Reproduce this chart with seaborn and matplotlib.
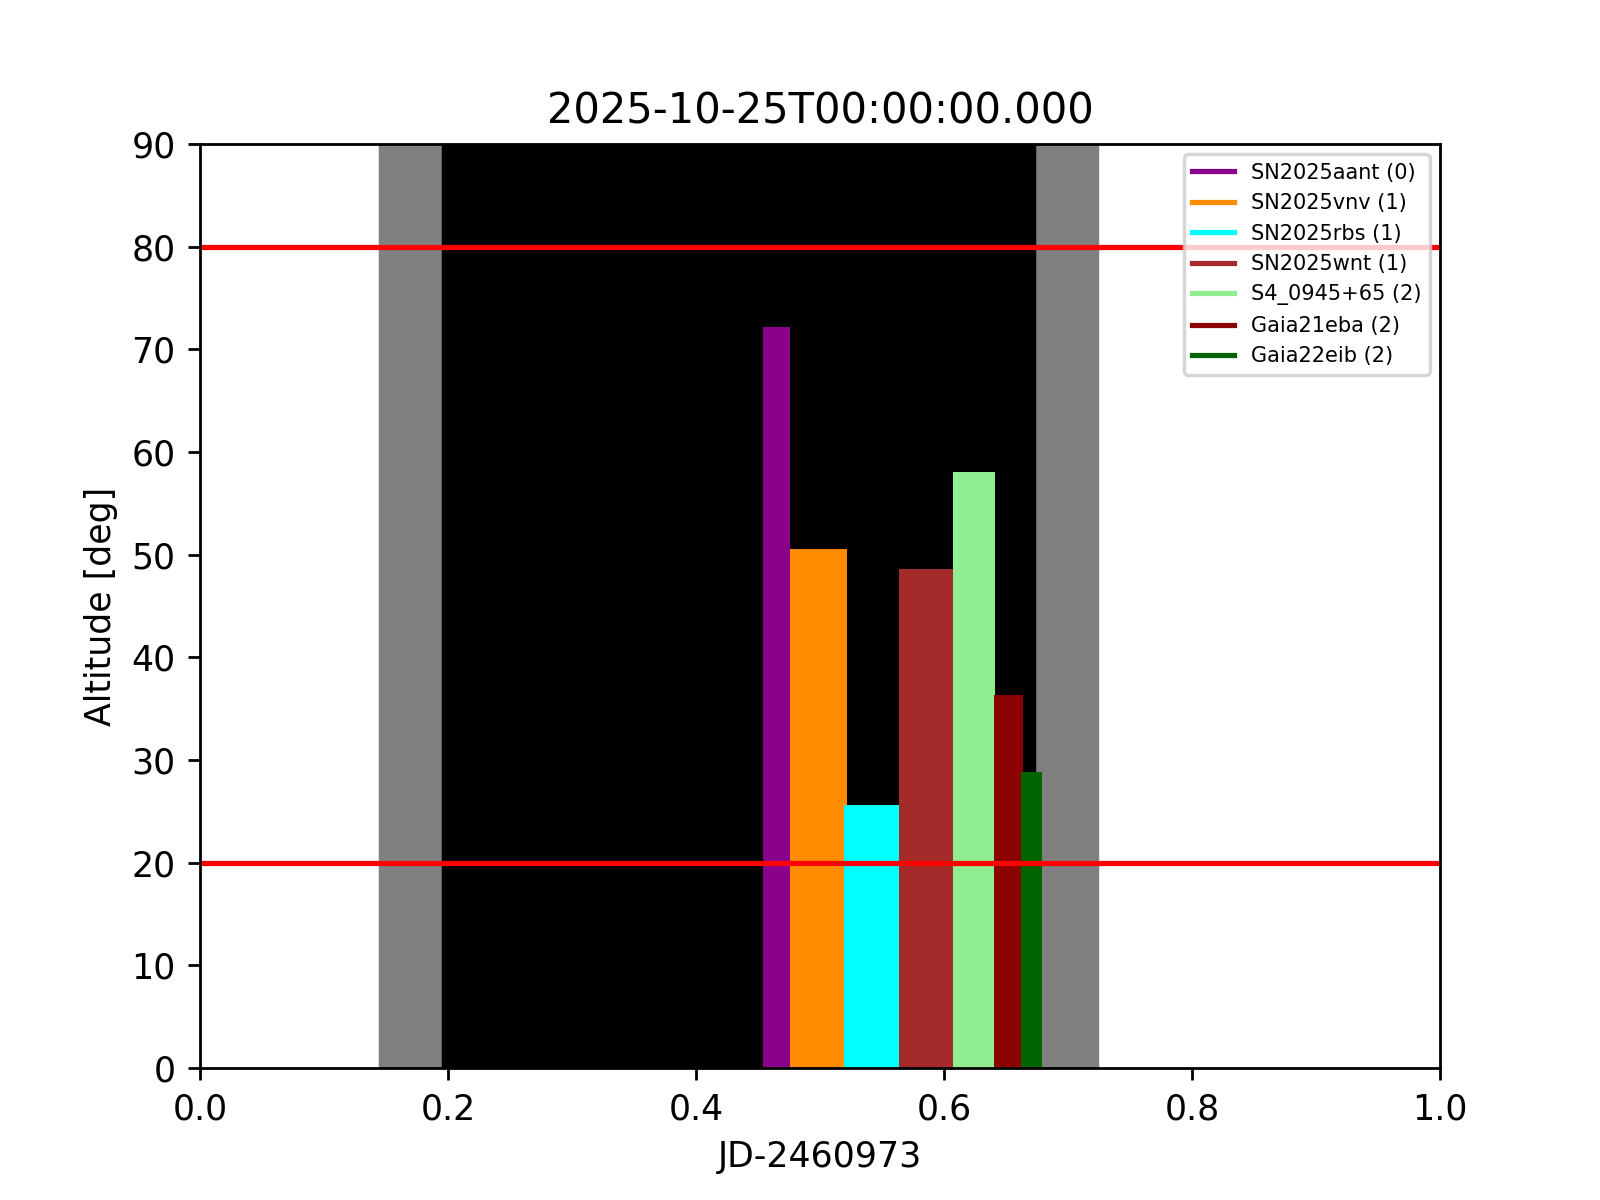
import matplotlib
matplotlib.use("Agg")
import matplotlib.pyplot as plt
import seaborn as sns
import pandas as pd

# target windows: start / end (JD-2460973) and max altitude
targets = ["SN2025aant (0)", "SN2025vnv (1)", "SN2025rbs (1)", "SN2025wnt (1)",
           "S4_0945+65 (2)", "Gaia21eba (2)", "Gaia22eib (2)"]
colors = ["darkmagenta", "darkorange", "cyan", "brown",
          "lightgreen", "darkred", "darkgreen"]
t_start = [0.4538, 0.4755, 0.5194, 0.5634, 0.6075, 0.6403, 0.6621]
t_end = [0.4755, 0.5218, 0.5634, 0.6075, 0.6411, 0.6637, 0.6790]
alt_max = [72.15, 50.55, 25.62, 48.56, 58.05, 36.33, 28.83]

# twilight / night
twilight = [0.1452, 0.7236]
night = [0.1957, 0.6726]
alt_limits = [20, 80]

df = pd.DataFrame({"target": targets, "start": t_start, "end": t_end,
                   "alt": alt_max, "color": colors})

sns.set_style("ticks", {"axes.facecolor": "white"})
plt.rcParams.update(matplotlib.rcParamsDefault)
plt.rcParams["font.family"] = ["DejaVu Sans"]

fig, ax = plt.subplots(figsize=(6.4, 4.8), dpi=250)

ax.axvspan(twilight[0], twilight[1], color="gray", zorder=0)
ax.axvspan(night[0], night[1], color="black", zorder=0)

ax.bar(df["start"], df["alt"], width=df["end"] - df["start"], align="edge",
       color=df["color"], linewidth=0, zorder=1)

for lim in alt_limits:
    ax.axhline(lim, color="red", zorder=2)

for name, c in zip(targets, colors):
    ax.plot([], [], color=c, label=name)

ax.legend(loc="upper right", fontsize=6)
ax.set_xlim(0, 1)
ax.set_ylim(0, 90)
ax.set_xlabel("JD-2460973")
ax.set_ylabel("Altitude [deg]")
ax.set_title("2025-10-25T00:00:00.000")

fig.savefig("out.png")
